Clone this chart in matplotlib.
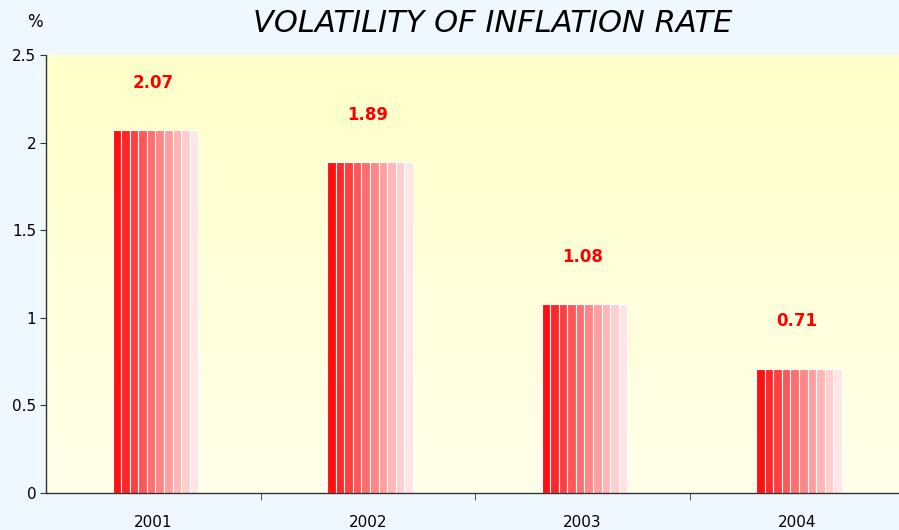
import numpy as np
import matplotlib.pyplot as plt
from matplotlib.colors import LinearSegmentedColormap

years = ['2001', '2002', '2003', '2004']
values = [2.07, 1.89, 1.08, 0.71]
labels = ['2.07', '1.89', '1.08', '0.71']

fig = plt.figure(figsize=(8.99, 5.30), dpi=100, facecolor='#f0f8ff')
ax = fig.add_axes([0.0512, 0.0698, 0.9544, 0.8262])

# background gradient (yellow at top, paler at bottom)
bg = LinearSegmentedColormap.from_list('bg', ['#ffffea', '#ffffc9'])
grad = np.linspace(0, 1, 256).reshape(-1, 1)
ax.imshow(grad, cmap=bg, aspect='auto', origin='lower',
          extent=[-0.5, 3.5, 0, 2.5], zorder=0)

# striped bars, red fading to pale pink
n = 10
w = 0.4
sw = w / n
for i, v in enumerate(values):
    left = i + 0.01 - w / 2
    for k in range(n):
        f = k / (n - 1)
        c = (1.0, 0.06 + 0.84 * f, 0.06 + 0.84 * f)
        ax.bar(left + k * sw, v, width=sw, align='edge', color=c,
               edgecolor='white', linewidth=0.8, zorder=2)
    ax.text(i, v + 0.27, labels[i], color='#ff0000', fontsize=12,
            fontweight='bold', ha='center', va='center', zorder=3)

ax.set_xlim(-0.5, 3.5)
ax.set_ylim(0, 2.5)
ax.set_yticks([0, 0.5, 1, 1.5, 2, 2.5])
ax.set_yticklabels(['0', '0.5', '1', '1.5', '2', '2.5'], fontsize=11)
ax.set_xticks(range(4))
ax.set_xticklabels(years, fontsize=11)
ax.tick_params(axis='x', which='major', length=0, pad=16)
ax.set_xticks([0.5, 1.5, 2.5], minor=True)
ax.tick_params(axis='x', which='minor', length=5, color='#333333')
ax.tick_params(axis='y', length=4, color='#333333', pad=3)

for s in ['top', 'right']:
    ax.spines[s].set_visible(False)
for s in ['left', 'bottom']:
    ax.spines[s].set_color('#333333')
    ax.spines[s].set_linewidth(1.0)

fig.text(0.548, 0.956, 'VOLATILITY OF INFLATION RATE', fontsize=22,
         fontstyle='italic', ha='center', va='center')
fig.text(0.039, 0.958, '%', fontsize=12, ha='center', va='center')

fig.savefig('out.png', dpi=100, facecolor=fig.get_facecolor())
